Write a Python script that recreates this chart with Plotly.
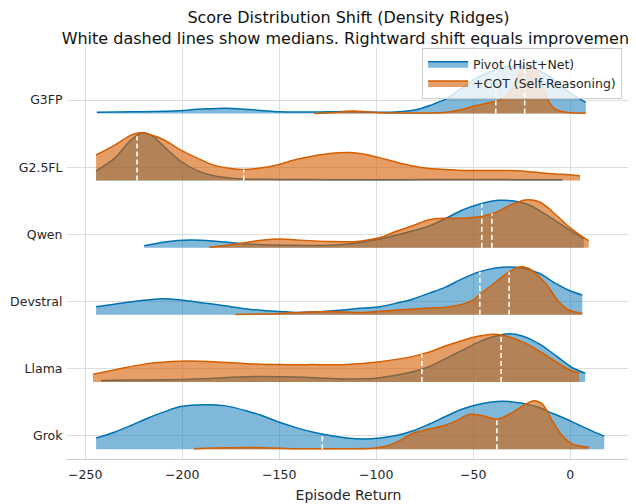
import numpy as np
import plotly.graph_objects as go

models = ["G3FP", "G2.5FL", "Qwen", "Devstral", "Llama", "Grok"]
x_ticks = [-250, -200, -150, -100, -50, 0]

# ---- density curves (relative density, 1.0 = ridge peak) ----
g3fp_pivot_x = [-244, -225, -205, -190, -178, -165, -150, -132, -115, -100, -90, -80, -72, -64, -56, -48, -40, -32, -26, -19, -11, -3, 0, 8]
g3fp_pivot_d = [0.025, 0.035, 0.05, 0.09, 0.11, 0.08, 0.035, 0.03, 0.04, 0.025, 0.03, 0.07, 0.17, 0.3, 0.52, 0.74, 0.88, 0.97, 0.98, 0.93, 0.77, 0.52, 0.42, 0.23]
g3fp_cot_x = [-132, -122, -112, -104, -95, -80, -65, -57, -50, -42, -36, -31, -27, -23, -19, -15.5, -12, -8, -3, 2, 8]
g3fp_cot_d = [0.0, 0.02, 0.05, 0.03, 0.01, 0.01, 0.02, 0.07, 0.15, 0.22, 0.28, 0.45, 0.78, 0.97, 0.97, 0.72, 0.32, 0.1, 0.03, 0.01, 0.01]

g25fl_pivot_x = [-244.4, -235, -226.4, -220.4, -216, -209.3, -200.8, -192, -183.7, -175, -166.6, -150, -120, -90, -60, -30, -4]
g25fl_pivot_d = [0.2, 0.46, 0.84, 0.99, 0.94, 0.7, 0.4, 0.2, 0.1, 0.05, 0.03, 0.025, 0.02, 0.02, 0.025, 0.02, 0.02]
g25fl_cot_x = [-244.4, -235, -226.4, -222, -218, -209.3, -200.8, -192, -183.7, -175, -168.3, -158, -149.5, -141, -132.4, -123.8, -113.6, -106.8, -98, -89.7, -81, -72.6, -64, -55.5, -40, -25, -12.7, -4.2, 5]
g25fl_cot_d = [0.53, 0.73, 0.94, 0.99, 0.97, 0.84, 0.63, 0.46, 0.32, 0.25, 0.23, 0.27, 0.34, 0.44, 0.51, 0.56, 0.58, 0.55, 0.47, 0.38, 0.3, 0.25, 0.23, 0.21, 0.21, 0.2, 0.15, 0.13, 0.1]

qwen_pivot_x = [-219.6, -209, -196, -184, -173, -158, -141, -124, -110, -98, -81, -72.6, -64, -55.5, -47, -37, -30, -21, -12.7, -4.2, 7]
qwen_pivot_d = [0.04, 0.12, 0.16, 0.14, 0.1, 0.06, 0.05, 0.05, 0.1, 0.18, 0.35, 0.45, 0.61, 0.78, 0.9, 0.98, 0.97, 0.88, 0.69, 0.47, 0.19]
qwen_cot_x = [-186, -175, -158, -149.5, -141, -124, -110, -98, -89.7, -81, -72.6, -64, -55.5, -47, -38.4, -29.8, -23, -16, -9.3, -0.8, 9.5]
qwen_cot_d = [0.01, 0.06, 0.16, 0.18, 0.16, 0.13, 0.13, 0.21, 0.34, 0.46, 0.58, 0.61, 0.61, 0.64, 0.73, 0.9, 0.99, 0.95, 0.75, 0.44, 0.14]

devstral_pivot_x = [-244.4, -235, -226, -212.7, -200.8, -192, -183.7, -175, -166.6, -158, -149.5, -141, -124, -106.8, -98, -89.7, -81, -72.6, -64, -55.5, -47, -38.4, -31.5, -24.7, -16, -7.6, -0.8, 6.2]
devstral_pivot_d = [0.17, 0.22, 0.27, 0.33, 0.31, 0.26, 0.22, 0.17, 0.12, 0.09, 0.07, 0.05, 0.08, 0.14, 0.17, 0.24, 0.33, 0.45, 0.58, 0.75, 0.89, 0.97, 0.99, 0.97, 0.86, 0.65, 0.51, 0.41]
devstral_cot_x = [-172.6, -149.5, -124, -106.8, -89.7, -72.6, -64, -55.5, -50, -47, -38.4, -31.5, -26.4, -21.3, -12.7, -5.9, -0.8, 6.2]
devstral_cot_d = [0.01, 0.03, 0.07, 0.05, 0.1, 0.14, 0.16, 0.22, 0.31, 0.41, 0.68, 0.89, 0.99, 0.96, 0.65, 0.27, 0.1, 0.03]

llama_pivot_x = [-241.8, -226.4, -200.8, -183.7, -166.6, -149.5, -132.4, -115.3, -98, -81, -72.6, -64, -55.5, -47, -38.4, -31.5, -24.7, -16, -7.6, 0.9, 7.7]
llama_pivot_d = [0.03, 0.04, 0.05, 0.08, 0.11, 0.11, 0.09, 0.06, 0.09, 0.21, 0.32, 0.49, 0.66, 0.83, 0.95, 1.0, 0.95, 0.79, 0.55, 0.3, 0.18]
llama_cot_x = [-246, -235, -218, -200.8, -183.7, -166.6, -149.5, -132.4, -115.3, -98, -81, -72.6, -64, -55.5, -47, -40, -35, -26.4, -18, -9.3, -0.8, 4.6]
llama_cot_d = [0.16, 0.25, 0.38, 0.43, 0.42, 0.38, 0.36, 0.36, 0.36, 0.42, 0.53, 0.62, 0.75, 0.86, 0.95, 0.99, 0.97, 0.86, 0.69, 0.47, 0.26, 0.18]

grok_pivot_x = [-244.4, -235, -226.4, -217.9, -209.3, -200.8, -188.8, -178.5, -166.6, -158, -149.5, -141, -132.4, -123.8, -115.3, -106.8, -98, -89.7, -81, -72.6, -64, -55.5, -47, -35, -24.7, -16, -11, -4.2, 4.4, 13.8, 17.5]
grok_pivot_d = [0.23, 0.35, 0.49, 0.64, 0.77, 0.88, 0.92, 0.9, 0.79, 0.68, 0.55, 0.44, 0.35, 0.28, 0.23, 0.21, 0.23, 0.28, 0.38, 0.52, 0.68, 0.83, 0.93, 0.99, 0.95, 0.86, 0.77, 0.66, 0.5, 0.33, 0.27]
grok_cot_x = [-194, -175, -158, -141, -124, -101.7, -95, -88, -81, -72, -64, -58, -52, -45.2, -37.5, -29.8, -23, -18.7, -14.4, -9.3, -4.2, 0.9, 9.5]
grok_cot_d = [0.01, 0.03, 0.03, 0.01, 0.01, 0.02, 0.06, 0.17, 0.33, 0.42, 0.5, 0.6, 0.72, 0.69, 0.62, 0.76, 0.93, 1.0, 0.93, 0.59, 0.28, 0.11, 0.04]

# ---- medians ----
pivot_medians = [-38.4, -223.3, -45.6, -46.6, -35.6, -127.8]
cot_medians = [-23.5, -168.3, -40.4, -31.5, -76.5, -37.8]

pivot_curves = [(g3fp_pivot_x, g3fp_pivot_d), (g25fl_pivot_x, g25fl_pivot_d), (qwen_pivot_x, qwen_pivot_d),
                (devstral_pivot_x, devstral_pivot_d), (llama_pivot_x, llama_pivot_d), (grok_pivot_x, grok_pivot_d)]
cot_curves = [(g3fp_cot_x, g3fp_cot_d), (g25fl_cot_x, g25fl_cot_d), (qwen_cot_x, qwen_cot_d),
              (devstral_cot_x, devstral_cot_d), (llama_cot_x, llama_cot_d), (grok_cot_x, grok_cot_d)]

BLUE = "#0072B2"
ORANGE = "#D55E00"
BLUE_FILL = "rgba(0,114,178,0.5)"
ORANGE_FILL = "rgba(213,94,0,0.6)"
SCALE = 0.72
OFFSET = -0.2

series = [
    ("Pivot (Hist+Net)", pivot_curves, pivot_medians, BLUE, BLUE_FILL),
    ("+COT (Self-Reasoning)", cot_curves, cot_medians, ORANGE, ORANGE_FILL),
]

fig = go.Figure()
n = len(models)
for i, m in enumerate(models):
    base = (n - 1 - i) + OFFSET
    for name, curves, meds, lc, fc in series:
        xs, ds = curves[i]
        fig.add_trace(go.Scatter(x=[xs[0], xs[-1]], y=[base, base], mode="lines",
                                 line=dict(width=0, color=lc), showlegend=False, hoverinfo="skip"))
        fig.add_trace(go.Scatter(x=xs, y=[base + SCALE * d for d in ds], mode="lines",
                                 line=dict(color=lc, width=1.5, shape="spline", smoothing=0.9),
                                 fill="tonexty", fillcolor=fc, name=name, legendgroup=name,
                                 showlegend=(i == 0)))

for i, m in enumerate(models):
    base = (n - 1 - i) + OFFSET
    for name, curves, meds, lc, fc in series:
        xs, ds = curves[i]
        med = meds[i]
        h = float(np.interp(med, xs, ds))
        fig.add_trace(go.Scatter(x=[med, med], y=[base, base + SCALE * h], mode="lines",
                                 line=dict(color="white", width=1.6, dash="5px,3px"),
                                 showlegend=False, hoverinfo="skip"))

def fmt(v):
    return ("\u2212" + str(abs(v))) if v < 0 else str(v)

fig.update_layout(
    width=636, height=504,
    margin=dict(l=59, r=14, t=39, b=53),
    plot_bgcolor="white", paper_bgcolor="white",
    font=dict(family="DejaVu Sans", size=12.5, color="#262626"),
    title=dict(text="Score Distribution Shift (Density Ridges)<br>White dashed lines show medians. Rightward shift equals improvement",
               x=0.5, xref="paper", xanchor="center", y=0.970, yref="container", yanchor="middle",
               font=dict(size=16, color="#111111")),
    xaxis=dict(range=[-259.4, 30.8], tickvals=x_ticks, ticktext=[fmt(v) for v in x_ticks],
               showgrid=True, gridcolor="#dedede", gridwidth=1, zeroline=False,
               showline=True, linecolor="#cccccc", linewidth=1, automargin=False,
               ticks="outside", ticklen=4, tickcolor="rgba(0,0,0,0)",
               title=dict(text="Episode Return", font=dict(size=14), standoff=9)),
    yaxis=dict(range=[-0.347, 5.79], tickvals=[n - 1 - i for i in range(n)], ticktext=models,
               showgrid=True, gridcolor="#dedede", gridwidth=1, zeroline=False, showline=False,
               automargin=False, ticks="outside", ticklen=1, tickcolor="rgba(0,0,0,0)"),
    legend=dict(x=0.986, y=0.997, xanchor="right", yanchor="top", itemwidth=40,
                bgcolor="rgba(255,255,255,0.8)", bordercolor="#cccccc", borderwidth=1,
                font=dict(size=12.5), tracegroupgap=0),
)

fig.write_html("out.html")
